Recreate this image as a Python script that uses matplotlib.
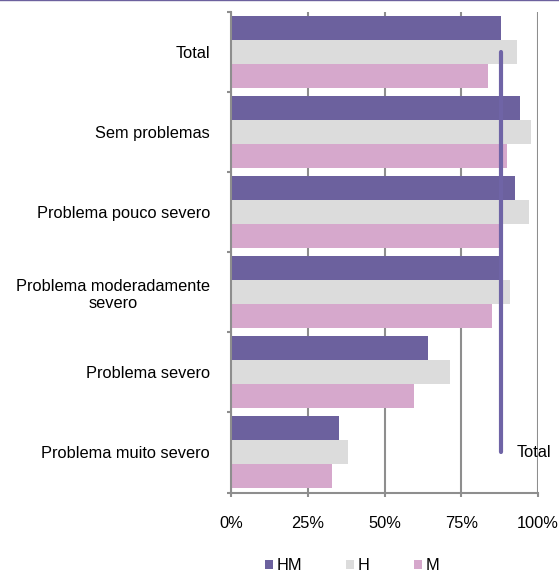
import matplotlib
matplotlib.use("Agg")
import matplotlib.pyplot as plt
from matplotlib.lines import Line2D

plt.rcParams['font.family'] = ['Liberation Sans', 'DejaVu Sans']

# severity groups, top to bottom
categorias = ['Total', 'Sem problemas', 'Problema pouco severo',
              'Problema moderadamente\nsevero', 'Problema severo',
              'Problema muito severo']
hm = [87.9, 94.0, 92.4, 87.5, 64.1, 35.1]
h = [93.0, 97.6, 97.0, 90.8, 71.3, 38.0]
m = [83.6, 90.0, 87.3, 84.9, 59.6, 32.9]
total_hm = hm[0]
ticks_x = [0, 25, 50, 75, 100]
tick_labels_x = ['0%', '25%', '50%', '75%', '100%']

c_hm = '#6c619e'
c_h = '#dcdcdc'
c_m = '#d6a8cc'
c_grid = '#8e8e8e'
fs = 11.8

fig = plt.figure(figsize=(5.59, 5.74), dpi=100)
ax = fig.add_axes([231 / 559, 1 - 492.5 / 574, 307 / 559, 480.5 / 574])

ypos = list(range(len(categorias)))
bh = 0.3
ax.barh([y - bh for y in ypos], hm, height=bh, color=c_hm, label='HM', zorder=3)
ax.barh(ypos, h, height=bh, color=c_h, label='H', zorder=3)
ax.barh([y + bh for y in ypos], m, height=bh, color=c_m, label='M', zorder=3)

# vertical reference line at the overall value
ax.plot([total_hm, total_hm], [ypos[0], ypos[-1]], color='#6f64a6', lw=3,
        solid_capstyle='round', zorder=4)
ax.annotate('Total', xy=(total_hm, ypos[-1]), xytext=(11, 0),
            textcoords='offset points', va='center', ha='left',
            fontsize=fs, zorder=6)

ax.set_xlim(0, 100)
ax.set_ylim(len(categorias) - 0.5, -0.5)

ax.set_xticks(ticks_x)
ax.set_xticklabels(tick_labels_x, fontsize=fs)
ax.set_yticks([y - 0.5 for y in ypos] + [ypos[-1] + 0.5])
ax.set_yticklabels([])
ax.set_yticks(ypos, minor=True)
ax.set_yticklabels(categorias, minor=True, fontsize=fs)
for t in ax.get_yticklabels(minor=True):
    t.set_multialignment('center')

ax.tick_params(axis='y', which='major', direction='out', length=3,
               width=1.5, color=c_grid)
ax.tick_params(axis='y', which='minor', length=0, pad=15)
ax.tick_params(axis='x', direction='out', length=3, width=1.5,
               color=c_grid, pad=14)

ax.grid(axis='x', color=c_grid, lw=1.5, zorder=0)
ax.set_axisbelow(True)
for s in ['top', 'right']:
    ax.spines[s].set_visible(False)
for s in ['left', 'bottom']:
    ax.spines[s].set_color(c_grid)
    ax.spines[s].set_linewidth(1.5)
    ax.spines[s].set_zorder(5)

fig.legend(loc='center', bbox_to_anchor=(352 / 559, 1 - 566 / 574), ncol=3,
           frameon=False, fontsize=fs, handlelength=0.5, handleheight=0.5,
           handletextpad=0.2, columnspacing=2.7)

# thin rule across the top edge
fig.add_artist(Line2D([0, 1], [0.9995, 0.9995], color=c_hm, lw=1,
                      transform=fig.transFigure))

fig.savefig('out.png', dpi=100)
